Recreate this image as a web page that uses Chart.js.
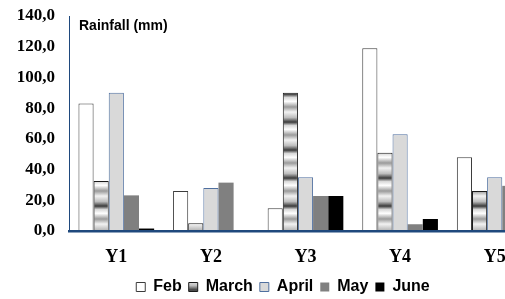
<!DOCTYPE html>
<html>
<head>
<meta charset="utf-8">
<script src="https://cdn.jsdelivr.net/npm/chart.js@4/dist/chart.umd.min.js"></script>
<style>
  html, body { margin: 0; padding: 0; background: #ffffff; overflow: hidden; }
  #wrap { position: relative; width: 505px; height: 299px; overflow: hidden; }
  #c { position: absolute; left: 0; top: 0; }
  #ytitle { position: absolute; left: 79px; top: 17px; font: bold 14px "Liberation Sans", Arial, sans-serif; color: #000; white-space: nowrap; }
</style>
</head>
<body>
<div id="wrap">
  <canvas id="c" width="560" height="305"></canvas>
  <div id="ytitle">Rainfall (mm)</div>
</div>
<script>
const categories = ['Y1', 'Y2', 'Y3', 'Y4', 'Y5'];
const seriesNames = ['Feb', 'March', 'April', 'May', 'June'];
const feb   = [83.0, 26.0, 14.8, 119.0, 48.0];
const march = [32.5, 5.0, 90.0, 51.0, 26.0];
const april = [90.0, 28.0, 35.0, 63.0, 35.0];
const may   = [23.2, 31.5, 22.8, 4.4, 29.4];
const june  = [1.6, 0.0, 22.8, 7.8, 0.0];
const yTicks = [0, 20, 40, 60, 80, 100, 120, 140];

// banded grey pattern for the March series
function makePattern() {
  const pc = document.createElement('canvas');
  pc.width = 16; pc.height = 28;
  const g = pc.getContext('2d');
  const grad = g.createLinearGradient(0, 0, 0, 28);
  grad.addColorStop(0.00, '#f2f2f2');
  grad.addColorStop(0.20, '#bdbdbd');
  grad.addColorStop(0.36, '#3a3a3a');
  grad.addColorStop(0.48, '#d8d8d8');
  grad.addColorStop(0.62, '#ffffff');
  grad.addColorStop(0.82, '#9a9a9a');
  grad.addColorStop(1.00, '#f2f2f2');
  g.fillStyle = grad;
  g.fillRect(0, 0, 16, 28);
  return g.createPattern(pc, 'repeat');
}
const marchFill = makePattern();

// shift the legend a little to the right, as in the reference
const legendShift = {
  id: 'legendShift',
  afterLayout(chart) {
    if (chart.legend) { chart.legend.left += 12; chart.legend.right += 12; }
  }
};

const ctx = document.getElementById('c').getContext('2d');
new Chart(ctx, {
  type: 'bar',
  data: {
    labels: categories,
    datasets: [
      { label: seriesNames[0], data: feb,   backgroundColor: '#ffffff', borderColor: '#3c3c3c', borderWidth: 1 },
      { label: seriesNames[1], data: march, backgroundColor: marchFill, borderColor: '#1a1a1a', borderWidth: 1 },
      { label: seriesNames[2], data: april, backgroundColor: '#d9d9d9', borderColor: '#4f6f9f', borderWidth: 1 },
      { label: seriesNames[3], data: may,   backgroundColor: '#808080', borderColor: '#808080', borderWidth: 0 },
      { label: seriesNames[4], data: june,  backgroundColor: '#000000', borderColor: '#000000', borderWidth: 0 }
    ]
  },
  plugins: [legendShift],
  options: {
    responsive: false,
    animation: false,
    layout: { padding: { left: 0, right: 18, top: 16, bottom: 0 } },
    datasets: { bar: { categoryPercentage: 0.8, barPercentage: 1.0, borderSkipped: false } },
    plugins: {
      legend: {
        position: 'bottom',
        labels: {
          boxWidth: 9, boxHeight: 9, padding: 7,
          color: '#000',
          font: { family: '"Liberation Sans", Arial, sans-serif', size: 16, weight: 'bold' }
        }
      },
      tooltip: { enabled: false },
      title: { display: false }
    },
    scales: {
      x: {
        afterFit: (s) => { s.height = 41; },
        grid: { display: false, drawTicks: false },
        border: { display: true, color: '#1f497d', width: 2.5, z: 2 },
        ticks: {
          color: '#000', padding: 16,
          font: { family: '"Liberation Serif", "Times New Roman", serif', size: 18, weight: 'bold' }
        }
      },
      y: {
        min: 0, max: 140,
        afterBuildTicks: (s) => { s.ticks = yTicks.map(v => ({ value: v })); },
        afterFit: (s) => { s.width = 69; },
        grid: { display: false, drawTicks: true, tickLength: 14 },
        border: { display: true, color: '#1f497d', width: 1 },
        ticks: {
          color: '#000', padding: 0,
          font: { family: '"Liberation Serif", "Times New Roman", serif', size: 17, weight: 'bold' },
          callback: (v) => Number(v).toFixed(1).replace('.', ',')
        }
      }
    }
  }
});
</script>
</body>
</html>
